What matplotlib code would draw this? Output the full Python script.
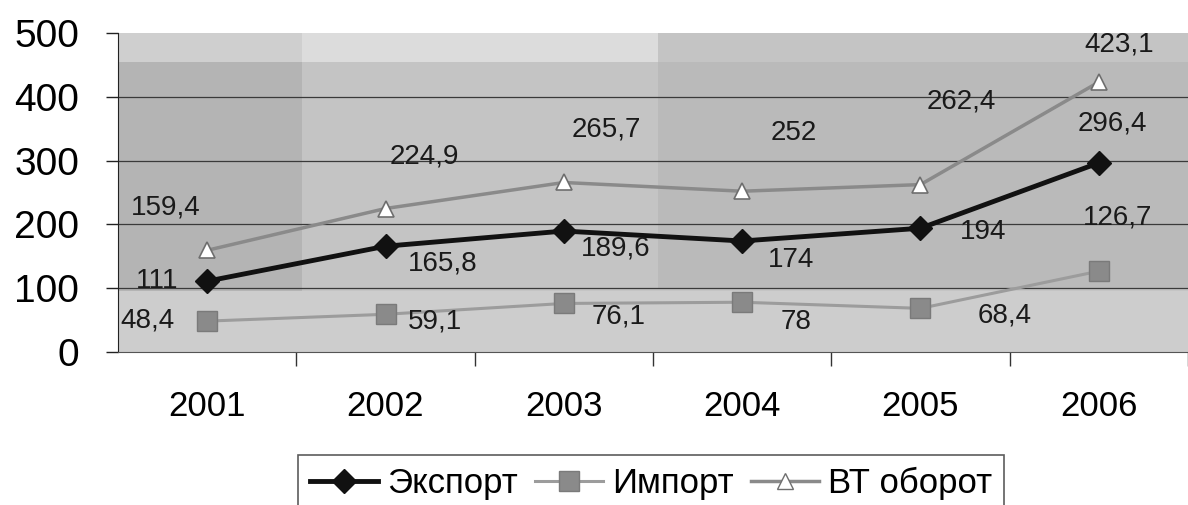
import numpy as np
import matplotlib.pyplot as plt
from matplotlib.lines import Line2D

plt.rcParams['font.family'] = ['Liberation Sans', 'DejaVu Sans']

years = ['2001', '2002', '2003', '2004', '2005', '2006']
export = [111, 165.8, 189.6, 174, 194, 296.4]
imports = [48.4, 59.1, 76.1, 78, 68.4, 126.7]
turnover = [159.4, 224.9, 265.7, 252, 262.4, 423.1]
names = ['Экспорт', 'Импорт', 'ВТ оборот']
yticks = [0, 100, 200, 300, 400, 500]

# label offsets in pixels (dx, dy)
off_exp = [(-50, 0), (57, -17), (52, -17), (49, -19), (63, -4), (14, 39)]
off_imp = [(-60, 1), (49, -7), (55, -13), (54, -20), (84, -7), (19, 54)]
off_bt = [(-41, 43), (39, 52), (42, 53), (52, 58), (41, 83), (20, 38)]

W, H = 1188, 505
fig = plt.figure(figsize=(W / 100, H / 100), dpi=100)
ax = fig.add_axes([118 / W, 1 - 352 / H, (W - 118) / W, (352 - 33) / H])

x = np.arange(len(years))
ax.set_xlim(-0.5, -0.5 + (W - 118) / 180)
ax.set_ylim(0, 500)

# halftone-like background blocks
ax.set_facecolor('#c4c4c4')
ax.axvspan(-0.5, 0.53, ymin=0.19, ymax=0.91, color='#b4b4b4', lw=0, zorder=0)
ax.axvspan(2.53, 5.6, ymin=0.2, ymax=0.91, color='#bababa', lw=0, zorder=0)
ax.axvspan(0.53, 2.53, ymin=0.91, ymax=1, color='#dcdcdc', lw=0, zorder=0)
ax.axvspan(-0.5, 0.53, ymin=0.91, ymax=1, color='#cfcfcf', lw=0, zorder=0)
ax.axhspan(0, 95, color='#cdcdcd', lw=0, zorder=0)

for v in yticks[1:-1]:
    ax.axhline(v, color='#3a3a3a', lw=0.9, zorder=1)

ax.plot(x, turnover, color='#8a8a8a', lw=2.5, marker='^', ms=11,
        mfc='white', mec='#6e6e6e', mew=1.2, zorder=3)
ax.plot(x, imports, color='#9c9c9c', lw=2.2, marker='s', ms=14,
        mfc='#8a8a8a', mec='#7a7a7a', zorder=3)
ax.plot(x, export, color='#111111', lw=3.5, marker='D', ms=12,
        mfc='#111111', mec='#111111', zorder=4)

def fmt(v):
    s = ('%g' % v).replace('.', ',')
    return s

for vals, offs in [(export, off_exp), (imports, off_imp), (turnover, off_bt)]:
    for i, v in enumerate(vals):
        ax.annotate(fmt(v), (x[i], v), xytext=offs[i], textcoords='offset pixels',
                    ha='center', va='center', fontsize=20, color='#1a1a1a', zorder=5)

for s in ['top', 'right']:
    ax.spines[s].set_visible(False)
ax.spines['left'].set_color('#222222')
ax.spines['bottom'].set_color('#555555')

ax.set_yticks(yticks)
ax.set_yticklabels([str(t) for t in yticks])
ax.tick_params(axis='y', length=9, width=1, pad=19, labelsize=28, color='#222222')
ax.set_xticks(x)
ax.set_xticklabels(years)
ax.tick_params(axis='x', which='major', length=0, pad=27, labelsize=25)
ax.set_xticks(np.arange(len(years)) + 0.5, minor=True)
ax.tick_params(axis='x', which='minor', length=10, width=1, color='#333333')

handles = [
    Line2D([], [], color='#111111', lw=3.5, marker='D', ms=12, mfc='#111111'),
    Line2D([], [], color='#9c9c9c', lw=2.2, marker='s', ms=14, mfc='#8a8a8a', mec='#7a7a7a'),
    Line2D([], [], color='#8a8a8a', lw=2.5, marker='^', ms=11, mfc='white', mec='#6e6e6e'),
]
leg = fig.legend(handles, names, loc='upper left', bbox_to_anchor=(298 / W, 1 - 455 / H),
                 ncol=3, fontsize=25, frameon=True, fancybox=False, edgecolor='#333333',
                 borderpad=0.35, handlelength=1.96, handletextpad=0.26, columnspacing=0.49,
                 borderaxespad=0)
leg.get_frame().set_linewidth(1.2)

fig.savefig('out.png', dpi=100, facecolor='white')
